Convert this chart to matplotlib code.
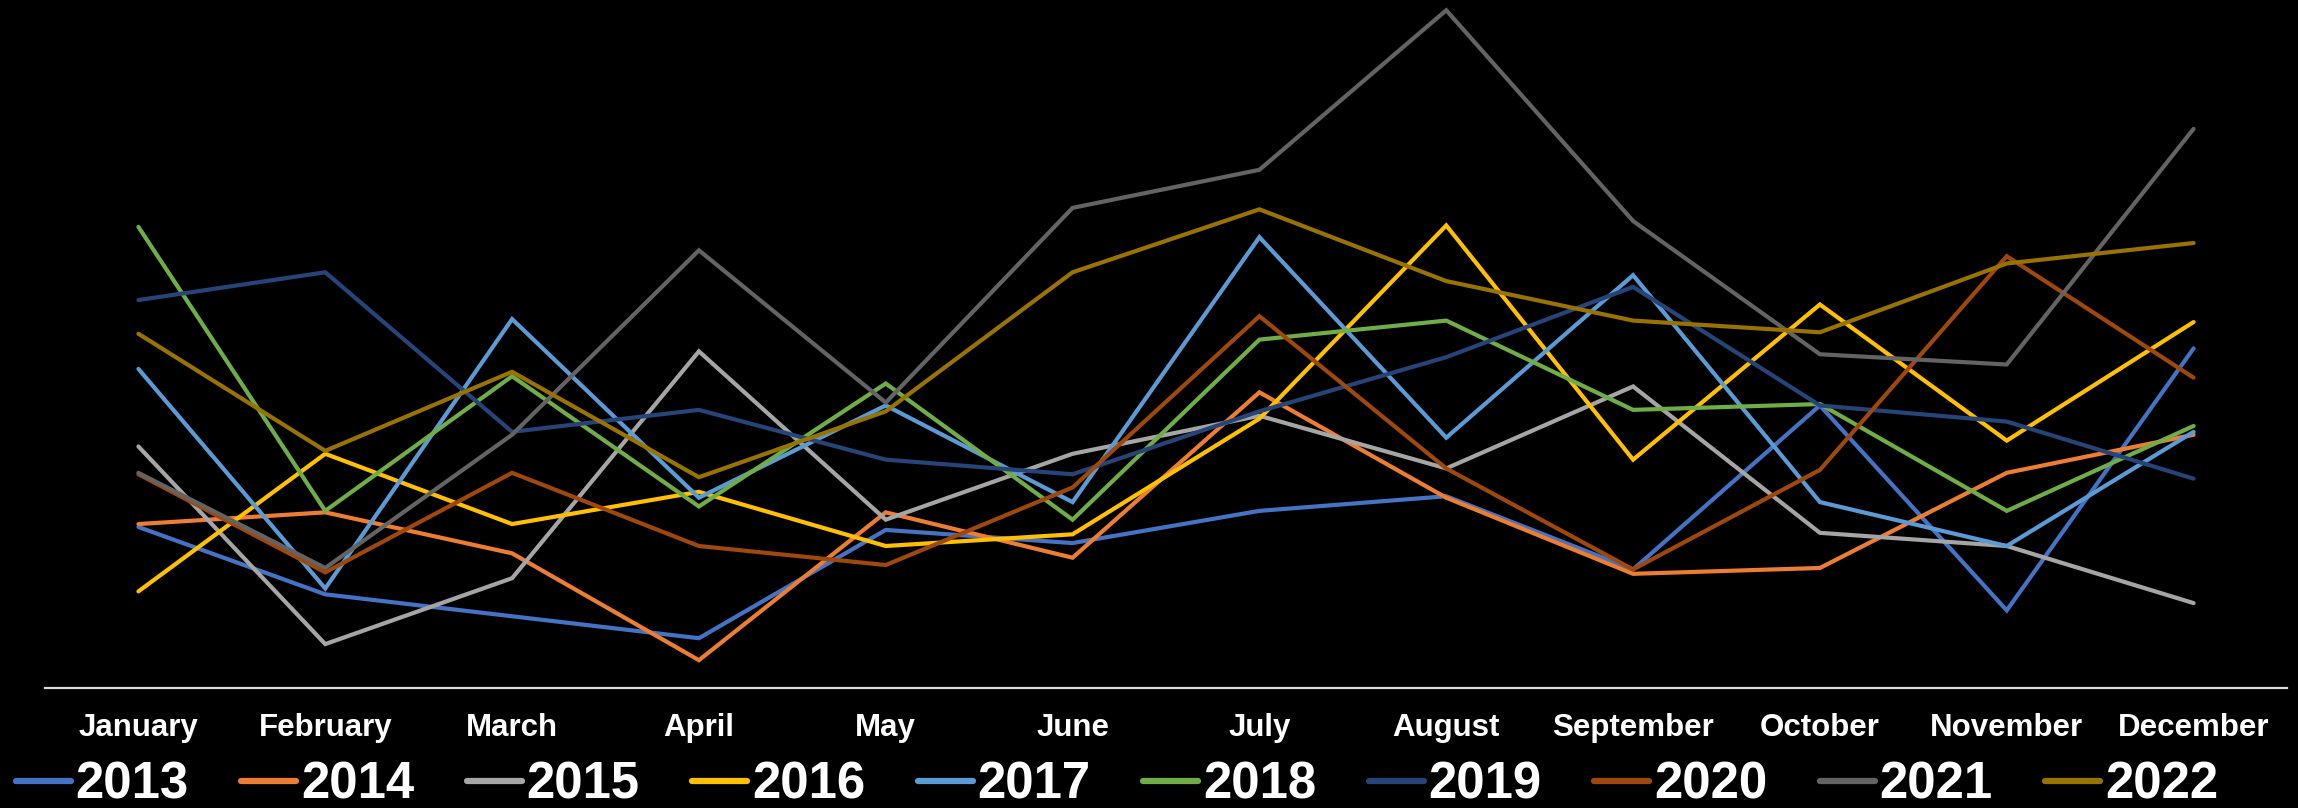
import numpy as np
import matplotlib
matplotlib.use("Agg")
from matplotlib import pyplot as plt

months = ["January", "February", "March", "April", "May", "June",
          "July", "August", "September", "October", "November", "December"]
years = ["2013", "2014", "2015", "2016", "2017", "2018", "2019", "2020", "2021", "2022"]
colors = ["#4472C4", "#ED7D31", "#A5A5A5", "#FFC000", "#5B9BD5",
          "#70AD47", "#264478", "#9E480E", "#636363", "#997300"]

# values (height above the axis line, arbitrary units)
y2013 = [110, 64, 49, 34, 108, 99, 121, 131, 81, 193, 53, 232]
y2014 = [112, 120, 92, 19, 120, 89, 202, 130, 78, 82, 147, 173]
y2015 = [165, 30, 75, 230, 115, 160, 186, 150, 206, 106, 97, 58]
y2016 = [66, 160, 112, 134, 97, 105, 184, 316, 156, 262, 169, 250]
y2017 = [218, 68, 252, 130, 193, 127, 308, 171, 282, 127, 97, 175]
y2018 = [315, 121, 213, 124, 208, 115, 238, 251, 190, 194, 121, 179]
y2019 = [265, 284, 175, 190, 156, 146, 189, 226, 274, 193, 182, 143]
y2020 = [146, 79, 147, 97, 84, 137, 254, 150, 81, 149, 295, 212]
y2021 = [147, 82, 173, 299, 195, 328, 354, 463, 319, 228, 221, 382]
y2022 = [242, 162, 216, 144, 189, 284, 327, 278, 251, 243, 290, 304]

series = [y2013, y2014, y2015, y2016, y2017, y2018, y2019, y2020, y2021, y2022]

fig = plt.figure(figsize=(22.98, 8.08), dpi=100, facecolor="black")
ax = fig.add_axes([45 / 2298, 120 / 808, (2287 - 45) / 2298, 688 / 808])
ax.set_facecolor("black")

x = np.arange(len(months))
for name, vals, c in zip(years, series, colors):
    ax.plot(x, vals, color=c, lw=3, label=name, solid_capstyle="round", solid_joinstyle="miter")

ax.set_xlim(-0.5, 11.5)
ax.set_ylim(0, 470)
for s in ["top", "right", "left"]:
    ax.spines[s].set_visible(False)
ax.spines["bottom"].set_color("#D9D9D9")
ax.spines["bottom"].set_linewidth(1.6)
ax.set_yticks([])
ax.set_xticks(x)
ax.set_xticklabels(months, color="white", fontsize=22.5, fontweight="bold",
                   family="Liberation Sans")
ax.tick_params(axis="x", length=0, pad=18)

leg = fig.legend(loc="center", bbox_to_anchor=(1117 / 2298, 23 / 808), ncol=10,
                 frameon=False, handlelength=1.08, handletextpad=0.1,
                 columnspacing=1.03, borderaxespad=0,
                 prop={"family": "Liberation Sans", "weight": "bold", "size": 36.6})
for t in leg.get_texts():
    t.set_color("white")
for h in leg.get_lines():
    h.set_linewidth(4.5)

fig.savefig("out.png", dpi=100, facecolor="black")
